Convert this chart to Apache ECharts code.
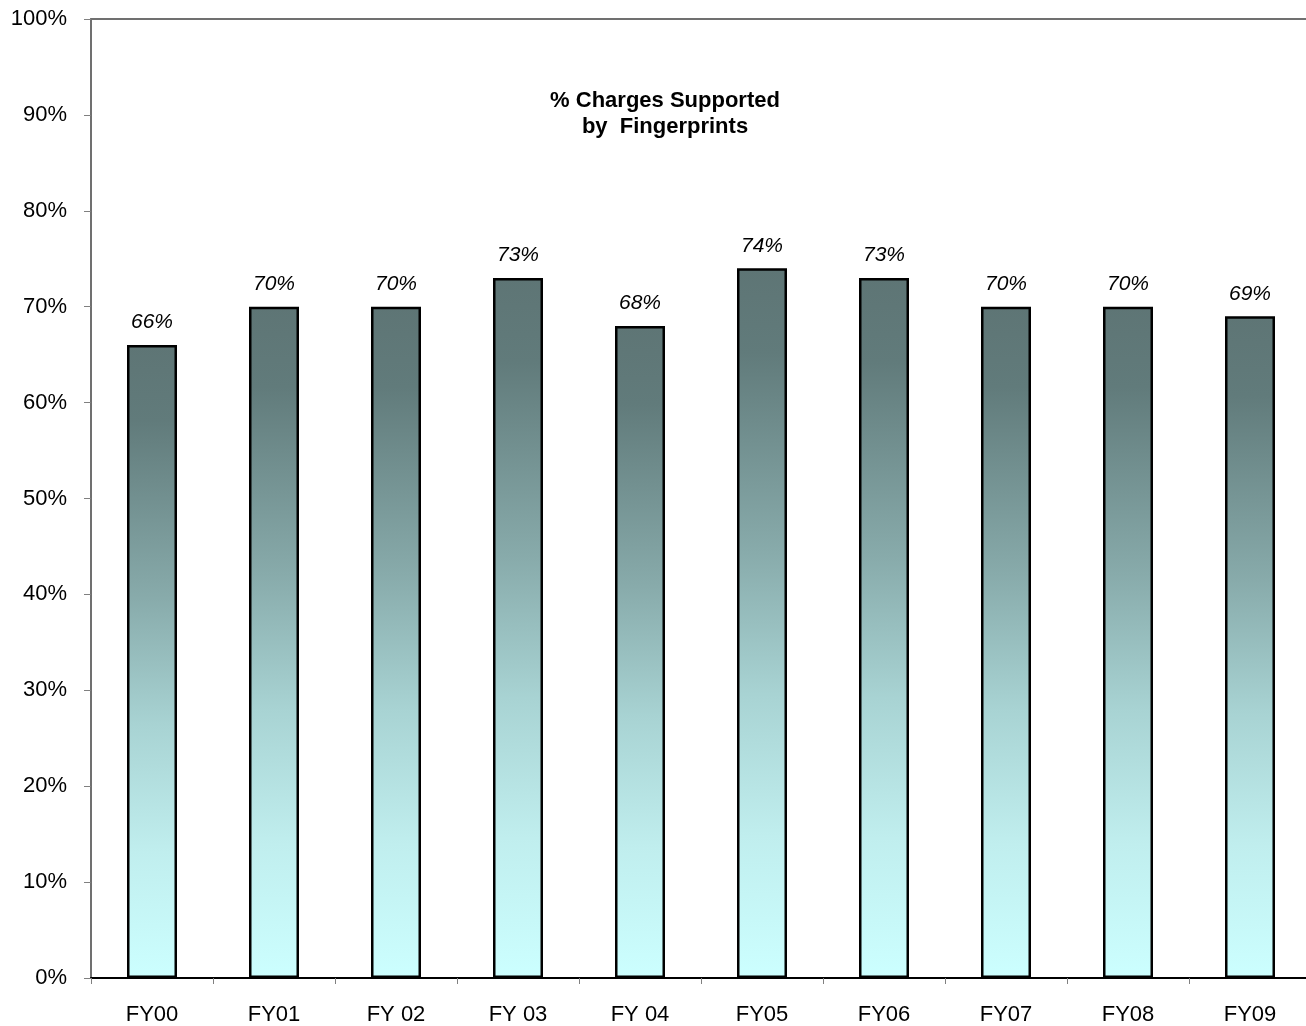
<!DOCTYPE html>
<html>
<head>
<meta charset="utf-8">
<script src="https://cdn.jsdelivr.net/npm/echarts@6/dist/echarts.min.js"></script>
<style>
html,body{margin:0;padding:0;background:#fff;}
#chart{width:1306px;height:1026px;}
</style>
</head>
<body>
<div id="chart"></div>
<script>
const categories = ["FY00","FY01","FY 02","FY 03","FY 04","FY05","FY06","FY07","FY08","FY09"];
const values = [66,70,70,73,68,74,73,70,70,69];
const titleLines = ["% Charges Supported", "by  Fingerprints"];

const FONT = '"Liberation Sans", Arial, sans-serif';
const chart = echarts.init(document.getElementById('chart'), null, {renderer:'canvas'});
chart.setOption({
  animation:false,
  backgroundColor:'#ffffff',
  title:{
    text: titleLines.join('\n'),
    left: 665, top: 88, textAlign:'center', padding:0,
    textStyle:{fontFamily:FONT, fontSize:22, fontWeight:'bold', color:'#000', lineHeight:26}
  },
  grid:{left:91, top:19, right:-5, bottom:48, containLabel:false, outerBoundsMode:'none'},
  xAxis:[{
    type:'category', data:categories, position:'bottom',
    axisLine:{show:true, lineStyle:{color:'#000', width:2}},
    axisTick:{show:true, length:6, lineStyle:{color:'#808080', width:1}},
    axisLabel:{fontFamily:FONT, fontSize:22, color:'#000', margin:26, interval:0}
  },{
    type:'category', data:categories, position:'top',
    axisLine:{show:true, onZero:false, lineStyle:{color:'#707070', width:2}},
    axisTick:{show:false}, axisLabel:{show:false}
  }],
  yAxis:{
    type:'value', min:0, max:100, interval:10,
    axisLine:{show:true, lineStyle:{color:'#707070', width:2}},
    axisTick:{show:true, inside:false, length:7, lineStyle:{color:'#808080', width:1}},
    axisLabel:{fontFamily:FONT, fontSize:22, color:'#000', margin:24, formatter:'{value}%'},
    splitLine:{show:false}
  },
  series:[{
    type:'bar', data:values, barWidth:50, xAxisIndex:0,
    itemStyle:{
      borderColor:'#000', borderWidth:2.5,
      color:new echarts.graphic.LinearGradient(0,0,0,1,[
        {offset:0, color:'#5e7575'},
        {offset:0.12, color:'#617b7b'},
        {offset:0.4, color:'#88abab'},
        {offset:0.6, color:'#a8d3d3'},
        {offset:0.8, color:'#c0eeee'},
        {offset:1, color:'#ccffff'}
      ])
    },
    label:{show:true, position:'top', distance:12, formatter:'{c}%',
      fontFamily:FONT, fontSize:21, fontStyle:'italic', color:'#000'}
  }]
});
</script>
</body>
</html>
